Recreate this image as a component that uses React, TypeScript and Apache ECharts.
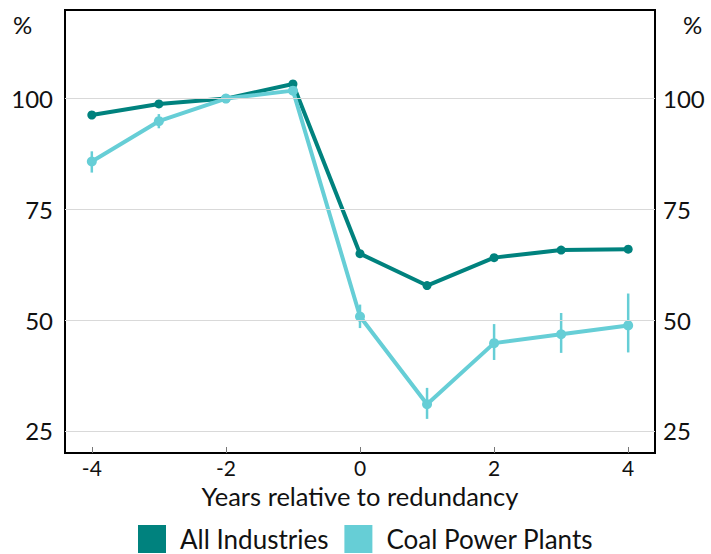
import React, { useEffect, useRef } from "react";
import * as echarts from "echarts";

const years = [-4, -3, -2, -1, 0, 1, 2, 3, 4];
const allIndustries = [96.3, 98.8, 100, 103.3, 65, 57.8, 64.1, 65.8, 66];
const coalPower = [85.8, 94.9, 100, 101.8, 50.8, 31, 44.8, 46.8, 48.8];
const coalLow = [83.3, 93.3, 100, 101.2, 48.2, 27.7, 41, 42.6, 42.7];
const coalHigh = [88.1, 96.5, 100, 102.4, 53.5, 34.7, 49.1, 51.6, 56];
const xTicks = [-4, -2, 0, 2, 4];
const yTicks = [25, 50, 75, 100];

const FONT = "Lato, 'Open Sans', sans-serif";
const DARK = "#00827e";
const LIGHT = "#66ced6";

export default function App() {
  const ref = useRef<HTMLDivElement>(null);
  useEffect(() => {
    document.body.style.margin = "0";
    if (!ref.current) return;
    const chart = echarts.init(ref.current, undefined, { renderer: "svg" });
    const yAxisCommon = {
      type: "value",
      min: 20,
      max: 120,
      interval: 5,
      axisLine: { show: false },
      axisTick: { show: false },
      splitLine: { show: false },
      axisLabel: {
        fontFamily: FONT,
        fontSize: 24,
        color: "#111",
        formatter: (v: number) => (yTicks.includes(v) ? String(v) : ""),
      },
    };
    chart.setOption({
      animation: false,
      textStyle: { fontFamily: FONT },
      grid: {
        left: 65,
        right: 56,
        top: 10,
        bottom: 101,
        show: true,
        borderColor: "#000",
        borderWidth: 2,
        backgroundColor: "transparent",
      },
      legend: {
        bottom: 1,
        left: 138,
        padding: 0,
        icon: "rect",
        itemWidth: 28,
        itemHeight: 28,
        itemGap: 16,
        textStyle: { fontFamily: FONT, fontSize: 26, lineHeight: 28, color: "#111", padding: [0, 0, 0, 9] },
        data: ["All Industries", "Coal Power Plants"],
      },
      xAxis: {
        type: "value",
        min: -4.4,
        max: 4.4,
        name: "Years relative to redundancy",
        nameLocation: "middle",
        nameGap: 28,
        nameTextStyle: { fontFamily: FONT, fontSize: 25.5, color: "#111" },
        axisLine: { show: false },
        axisTick: { show: true, inside: true, length: 6, customValues: xTicks, lineStyle: { color: "#777", width: 1 } },
        axisLabel: { fontFamily: FONT, fontSize: 21, color: "#111", margin: 4, customValues: xTicks },
        splitLine: { show: false },
      },
      yAxis: [
        { ...yAxisCommon, position: "left", axisLabel: { ...yAxisCommon.axisLabel, margin: 12 } },
        { ...yAxisCommon, position: "right", axisLabel: { ...yAxisCommon.axisLabel, margin: 8 } },
      ],
      graphic: [
        { type: "text", left: 13, top: 12, style: { text: "%", font: `24px ${FONT}`, fill: "#111" } },
        { type: "text", left: 683, top: 12, style: { text: "%", font: `24px ${FONT}`, fill: "#111" } },
      ],
      series: [
        {
          name: "grid",
          type: "line",
          data: [],
          silent: true,
          markLine: {
            silent: true,
            symbol: "none",
            label: { show: false },
            lineStyle: { color: "#d9d9d9", width: 1, type: "solid" },
            data: yTicks.map((v) => ({ yAxis: v })),
          },
        },
        {
          name: "All Industries",
          type: "line",
          data: years.map((x, i) => [x, allIndustries[i]]),
          color: DARK,
          lineStyle: { width: 4, color: DARK },
          symbol: "circle",
          symbolSize: 9,
          itemStyle: { color: DARK },
          z: 3,
        },
        {
          name: "errbars",
          type: "custom",
          data: years.map((x, i) => [x, coalLow[i], coalHigh[i]]),
          renderItem: (params: any, api: any) => {
            const lo = api.coord([api.value(0), api.value(1)]);
            const hi = api.coord([api.value(0), api.value(2)]);
            return {
              type: "line",
              shape: { x1: lo[0], y1: lo[1], x2: hi[0], y2: hi[1] },
              style: { stroke: LIGHT, lineWidth: 2.5 },
            };
          },
          z: 4,
          silent: true,
        },
        {
          name: "Coal Power Plants",
          type: "line",
          data: years.map((x, i) => [x, coalPower[i]]),
          color: LIGHT,
          lineStyle: { width: 4, color: LIGHT },
          symbol: "circle",
          symbolSize: 10,
          itemStyle: { color: LIGHT },
          z: 4,
        },
      ],
    });
    return () => chart.dispose();
  }, []);
  return <div ref={ref} style={{ width: 711, height: 554 }} />;
}
